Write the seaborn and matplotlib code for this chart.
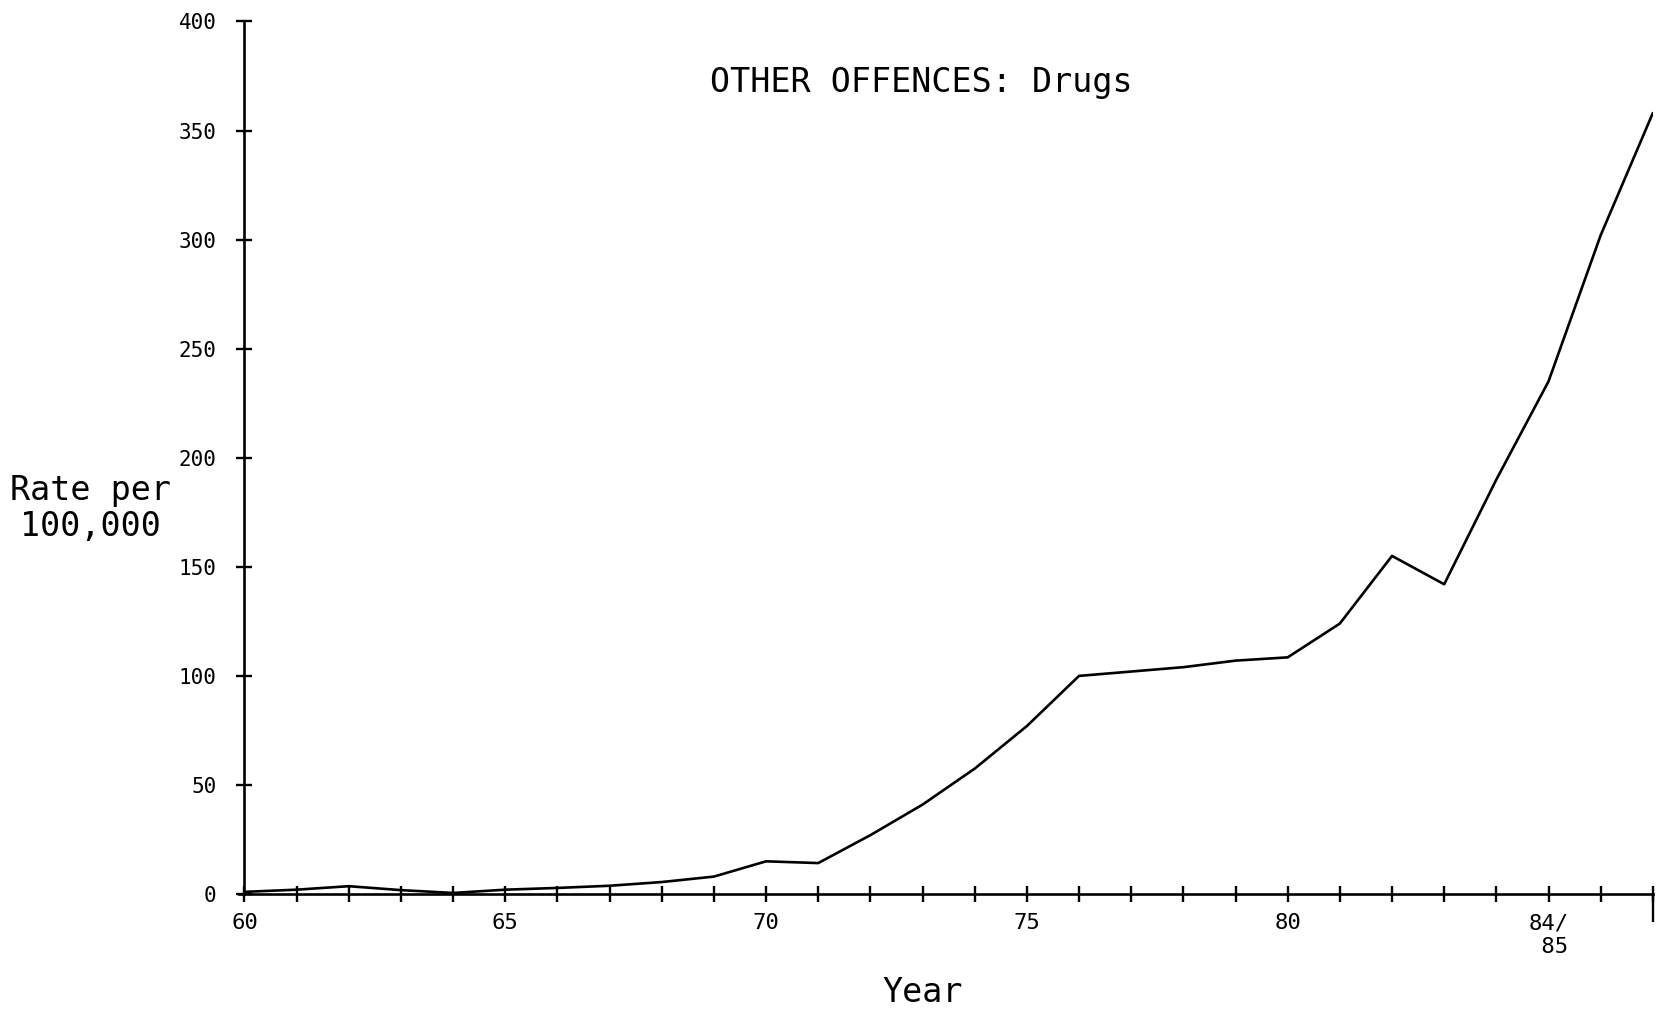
import matplotlib
matplotlib.use("Agg")
import matplotlib.pyplot as plt
import seaborn as sns
import pandas as pd

years = list(range(60, 88))
rates = [1.0, 2.0, 3.6, 1.8, 0.5, 2.0, 2.8, 3.8, 5.5, 8.0,
         15.0, 14.2, 27.0, 41.0, 57.5, 77.0, 100.0, 102.0, 104.0, 107.0,
         108.5, 124.0, 155.0, 142.0, 190.0, 235.0, 302.0, 358.0]
ytick_vals = [0, 50, 100, 150, 200, 250, 300, 350, 400]
xtick_labels = {60: "60", 65: "65", 70: "70", 75: "75", 80: "80", 85: "84/\n 85"}
title_text = "OTHER OFFENCES: Drugs"
ylabel_text = "Rate per\n100,000"
xlabel_text = "Year"

sns.set_style("ticks")
plt.rcParams["font.family"] = ["DejaVu Sans Mono", "DejaVu Sans"]
plt.rcParams["text.color"] = "black"

df = pd.DataFrame({"year": years, "rate": rates})

fig = plt.figure(figsize=(16.67, 10.17), dpi=100)
ax = fig.add_axes([0.1435, 0.1209, 0.848, 0.858])

sns.lineplot(data=df, x="year", y="rate", ax=ax, color="black", linewidth=1.9)

ax.set_xlim(59.9, 87.0)
ax.set_ylim(0, 400)
for s in ["top", "right"]:
    ax.spines[s].set_visible(False)
ax.spines["left"].set_position(("data", 60))
ax.spines["left"].set_bounds(0, 400)
ax.spines["bottom"].set_bounds(59.9, 87)
for s in ["left", "bottom"]:
    ax.spines[s].set_linewidth(1.9)
    ax.spines[s].set_color("black")

ax.xaxis.remove_overlapping_locs = False
ax.set_xticks(years)
ax.set_xticklabels([xtick_labels.get(y, "") for y in years])
ax.set_xticks([87], minor=True)
ax.set_xticklabels([""], minor=True)
ax.set_yticks(ytick_vals)
ax.set_yticklabels([str(v) for v in ytick_vals])

ax.tick_params(axis="x", which="major", direction="inout", length=12, width=1.7,
               pad=8, labelsize=16, colors="black")
ax.tick_params(axis="x", which="minor", direction="out", length=20, width=1.7,
               colors="black")
ax.tick_params(axis="y", which="major", direction="inout", length=12, width=1.7,
               pad=14, labelsize=15, colors="black")
for lbl in ax.get_xticklabels():
    lbl.set_multialignment("left")

ax.set_xlabel("")
ax.set_ylabel("")

fig.text(0.5525, 0.919, title_text, ha="center", va="center", fontsize=24,
         color="black")
fig.text(0.054, 0.500, ylabel_text, ha="center", va="center", fontsize=24,
         multialignment="center", linespacing=1.1, color="black")
fig.text(0.5537, 0.024, xlabel_text, ha="center", va="center", fontsize=24,
         color="black")

fig.savefig("out.png", dpi=100, facecolor="white")
